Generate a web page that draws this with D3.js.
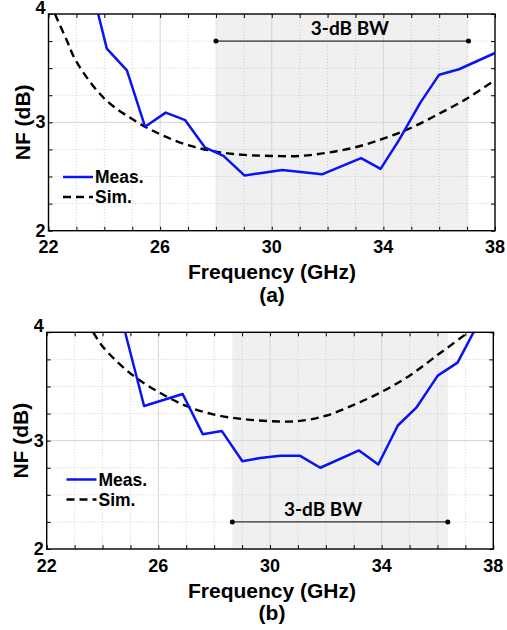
<!DOCTYPE html>
<meta charset="utf-8">
<script src="https://d3js.org/d3.v7.min.js"></script>
<style>
  body { margin: 0; background: #fff; }
  text { font-family: "Liberation Sans", Arial, sans-serif; font-weight: bold; fill: #000; }
</style>
<body>
<div id="chart"></div>
<script>
// axis ticks
var xMajor = [22, 26, 30, 34, 38];
var yMajor = [2, 3, 4];

// ---- panel (a) data ----
var measAFreq = [23.78, 24.09, 24.81, 25.46, 26.2, 26.9, 27.6, 28.27, 29.02, 29.58, 30.37, 31.8, 33.2, 33.9, 34.57, 35.32, 36.0, 36.71, 38.0];
var measANF   = [4.0, 3.68, 3.48, 2.96, 3.09, 3.02, 2.77, 2.69, 2.51, 2.53, 2.56, 2.52, 2.67, 2.57, 2.84, 3.18, 3.44, 3.49, 3.64];
var simAFreq  = [22.23, 22.65, 23, 24, 25, 26, 27, 28, 29, 30, 31, 32, 33, 34, 35, 36, 37, 38];
var simANF    = [4.0, 3.76, 3.56, 3.22, 3.03, 2.89, 2.79, 2.73, 2.70, 2.69, 2.69, 2.72, 2.77, 2.85, 2.95, 3.08, 3.22, 3.39];
var bwA = [28.0, 37.05];

// ---- panel (b) data ----
var measBFreq = [24.81, 25.49, 26.87, 27.59, 28.27, 29.01, 29.65, 30.37, 31.08, 31.8, 33.19, 33.88, 34.58, 35.26, 36.01, 36.72, 37.29];
var measBNF   = [4.0, 3.32, 3.43, 3.06, 3.09, 2.81, 2.84, 2.86, 2.86, 2.75, 2.91, 2.78, 3.14, 3.31, 3.6, 3.72, 4.0];
var simBFreq  = [23.67, 24, 25, 26, 27, 28, 29, 30, 31, 32, 33, 34, 35, 36, 37, 37.11];
var simBNF    = [4.0, 3.87, 3.62, 3.45, 3.32, 3.24, 3.2, 3.18, 3.18, 3.23, 3.33, 3.45, 3.6, 3.79, 3.98, 4.0];
var bwB = [28.65, 36.37];

var W = 507, H = 630;
var svg = d3.select("#chart").append("svg").attr("width", W).attr("height", H);

function drawPanel(p) {
  var x = d3.scaleLinear().domain([22, 38]).range([p.left, p.right]);
  var y = d3.scaleLinear().domain([2, 4]).range([p.bottom, p.top]);
  var g = svg.append("g");

  // shaded 3-dB band
  g.append("rect")
    .attr("x", x(p.bw[0])).attr("y", p.top)
    .attr("width", x(p.bw[1]) - x(p.bw[0])).attr("height", p.bottom - p.top)
    .attr("fill", "#f0f0f0");

  // minor dotted grid
  var xMinor = d3.range(23, 38, 1).filter(function(v) { return xMajor.indexOf(v) < 0; });
  var yMinor = [2.25, 2.5, 2.75, 3.25, 3.5, 3.75];
  g.selectAll(".xmin").data(xMinor).enter().append("line")
    .attr("x1", x).attr("x2", x).attr("y1", p.top).attr("y2", p.bottom)
    .attr("stroke", "#c4c4c4").attr("stroke-width", 0.8).attr("stroke-dasharray", "1,2");
  g.selectAll(".ymin").data(yMinor).enter().append("line")
    .attr("y1", y).attr("y2", y).attr("x1", p.left).attr("x2", p.right)
    .attr("stroke", "#c4c4c4").attr("stroke-width", 0.8).attr("stroke-dasharray", "1,2");
  // major grid
  g.selectAll(".xmaj").data([26, 30, 34]).enter().append("line")
    .attr("x1", x).attr("x2", x).attr("y1", p.top).attr("y2", p.bottom)
    .attr("stroke", "#d4d4d4").attr("stroke-width", 1);
  g.append("line")
    .attr("y1", y(3)).attr("y2", y(3)).attr("x1", p.left).attr("x2", p.right)
    .attr("stroke", "#d4d4d4").attr("stroke-width", 1);

  // bandwidth marker
  var by = y(p.bwLevel);
  g.append("line").attr("x1", x(p.bw[0])).attr("x2", x(p.bw[1]))
    .attr("y1", by).attr("y2", by).attr("stroke", "#000").attr("stroke-width", 1);
  g.selectAll(".bwdot").data(p.bw).enter().append("circle")
    .attr("cx", x).attr("cy", by).attr("r", 2.5).attr("fill", "#000");
  g.append("text").attr("x", x(p.bwLabelX)).attr("y", p.bwLabelY)
    .attr("text-anchor", "middle")
    .style("font-family", "Lato, 'Open Sans', sans-serif").style("font-size", "19px")
    .text("3-dB BW");

  // curves
  var clipId = "clip" + p.name;
  svg.append("clipPath").attr("id", clipId).append("rect")
    .attr("x", p.left).attr("y", p.top - 1).attr("width", p.right - p.left).attr("height", p.bottom - p.top + 2);
  var line = d3.line().x(function(d) { return x(d[0]); }).y(function(d) { return y(d[1]); });
  var smooth = d3.line().curve(d3.curveCatmullRom.alpha(0.5))
    .x(function(d) { return x(d[0]); }).y(function(d) { return y(d[1]); });

  g.append("path").datum(d3.zip(p.simF, p.simN))
    .attr("clip-path", "url(#" + clipId + ")")
    .attr("d", smooth).attr("fill", "none")
    .attr("stroke", "#000").attr("stroke-width", 2.4).attr("stroke-dasharray", "8,5");
  g.append("path").datum(d3.zip(p.measF, p.measN))
    .attr("clip-path", "url(#" + clipId + ")")
    .attr("d", line).attr("fill", "none")
    .attr("stroke", "#0814f4").attr("stroke-width", 2.5).attr("stroke-linejoin", "round");

  // frame
  g.append("rect").attr("x", p.left).attr("y", p.top)
    .attr("width", p.right - p.left).attr("height", p.bottom - p.top)
    .attr("fill", "none").attr("stroke", "#000").attr("stroke-width", 1.4);

  // inward ticks via axes
  var xb = d3.axisBottom(x).tickValues(d3.range(22, 39, 1)).tickSize(-4).tickFormat("");
  var xt = d3.axisTop(x).tickValues(d3.range(22, 39, 1)).tickSize(-4).tickFormat("");
  var yl = d3.axisLeft(y).tickValues(d3.range(2, 4.01, 0.25)).tickSize(-4).tickFormat("");
  var yr = d3.axisRight(y).tickValues(d3.range(2, 4.01, 0.25)).tickSize(-4).tickFormat("");
  [[xb, "translate(0," + p.bottom + ")"], [xt, "translate(0," + p.top + ")"],
   [yl, "translate(" + p.left + ",0)"], [yr, "translate(" + p.right + ",0)"]].forEach(function(a) {
    var ag = g.append("g").attr("transform", a[1]).call(a[0]);
    ag.select(".domain").remove();
    ag.selectAll("line").attr("stroke", "#000").attr("stroke-width", 1);
  });

  // tick labels
  g.selectAll(".xl").data(xMajor).enter().append("text")
    .attr("x", x).attr("y", p.bottom + 22.5)
    .attr("text-anchor", "middle").style("font-size", "18px")
    .text(function(d) { return d; });
  g.selectAll(".yl").data(yMajor).enter().append("text")
    .attr("x", p.left - 3).attr("y", function(d) { return d === 4 ? y(d) - 0.5 : y(d) + 6; })
    .attr("text-anchor", "end").style("font-size", "18px")
    .text(function(d) { return d; });

  // axis titles
  g.append("text").attr("x", 272).attr("y", p.bottom + 48.5)
    .attr("text-anchor", "middle").style("font-size", "21px").text("Frequency (GHz)");
  g.append("text").attr("x", 272).attr("y", p.bottom + 71)
    .attr("text-anchor", "middle").style("font-size", "21px").text(p.caption);
  g.append("text")
    .attr("transform", "translate(" + (p.left - 19) + "," + ((p.top + p.bottom) / 2) + ") rotate(-90)")
    .attr("text-anchor", "middle").style("font-size", "21px").text("NF (dB)");

  // legend
  var lg = g.append("g").attr("transform", "translate(" + p.legX + "," + p.legY + ")");
  lg.append("line").attr("x1", 0).attr("x2", 30).attr("y1", 0).attr("y2", 0)
    .attr("stroke", "#0814f4").attr("stroke-width", 2.5);
  lg.append("line").attr("x1", 0).attr("x2", 30).attr("y1", 20).attr("y2", 20)
    .attr("stroke", "#000").attr("stroke-width", 2.4).attr("stroke-dasharray", "8,5");
  lg.append("text").attr("x", 32).attr("y", 6).style("font-size", "17.5px").text("Meas.");
  lg.append("text").attr("x", 32).attr("y", 26).style("font-size", "17.5px").text("Sim.");
}

drawPanel({
  name: "a", left: 48.5, right: 495, top: 14, bottom: 230.7,
  measF: measAFreq, measN: measANF, simF: simAFreq, simN: simANF,
  bw: bwA, bwLevel: 3.75, bwLabelX: 32.8, bwLabelY: 35,
  legX: 63, legY: 177, caption: "(a)"
});
drawPanel({
  name: "b", left: 46.7, right: 493.3, top: 332.3, bottom: 549,
  measF: measBFreq, measN: measBNF, simF: simBFreq, simN: simBNF,
  bw: bwB, bwLevel: 2.25, bwLabelX: 31.9, bwLabelY: 516,
  legX: 66.5, legY: 479.5, caption: "(b)"
});
</script>
</body>
